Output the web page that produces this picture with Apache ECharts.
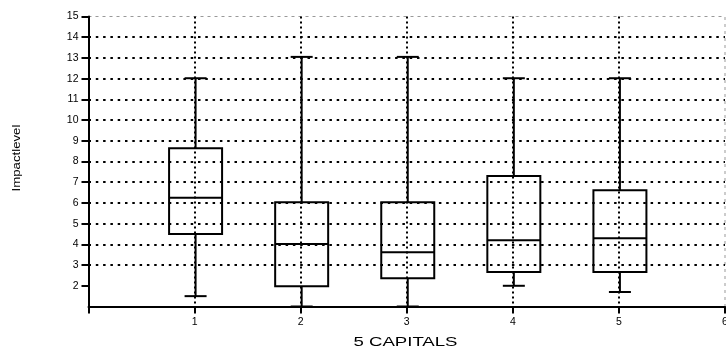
<!DOCTYPE html>
<html><head><meta charset="utf-8">
<script src="https://cdn.jsdelivr.net/npm/echarts@6/dist/echarts.min.js"></script>
<style>html,body{margin:0;padding:0;background:#fff}#c{width:726px;height:354px}</style>
</head><body><div id="c"></div>
<script>
// ---- data ----
const capitals = [1, 2, 3, 4, 5];
const whiskerLow = [1.5, 1.0, 1.0, 2.0, 1.7];
const quartile1 = [4.5, 1.98, 2.36, 2.67, 2.67];
const medians = [6.25, 4.02, 3.62, 4.2, 4.29];
const quartile3 = [8.64, 6.03, 6.03, 7.3, 6.61];
const whiskerHigh = [12.02, 13.05, 13.05, 12.02, 12.02];
const yTickValues = [2, 3, 4, 5, 6, 7, 8, 9, 10, 11, 12, 13, 14, 15];
const xTickValues = [1, 2, 3, 4, 5, 6];
const xAxisTitle = '5 CAPITALS';
const yAxisTitle = 'Impactlevel';

const FONT = '"Liberation Sans", Arial, sans-serif';
const boxData = capitals.map((c, i) => [c, whiskerLow[i], quartile1[i], medians[i], quartile3[i], whiskerHigh[i]]);

const chart = echarts.init(document.getElementById('c'), null, {renderer: 'canvas'});
chart.setOption({
  animation: false,
  backgroundColor: '#fff',
  grid: {
    left: 88.5, right: 1, top: 16.5, bottom: 47.5,
    outerBoundsMode: 'none', containLabel: false,
    show: true, borderColor: '#999', borderWidth: 1, borderType: [3, 4], backgroundColor: 'transparent'
  },
  xAxis: {
    type: 'value', min: 0, max: 6, interval: 1,
    axisLine: {show: true, onZero: false, lineStyle: {color: '#000', width: 2}},
    axisTick: {show: true, inside: false, length: 7, lineStyle: {color: '#000', width: 2}},
    axisLabel: {customValues: xTickValues, margin: 10, color: '#000', fontSize: 10.5, fontFamily: FONT},
    splitLine: {show: true, showMinLine: false, showMaxLine: false, lineStyle: {color: '#000', width: 2, type: [2, 3]}}
  },
  yAxis: {
    type: 'value', min: 1, max: 15, interval: 1,
    axisLine: {show: true, onZero: false, lineStyle: {color: '#000', width: 2}},
    axisTick: {show: true, inside: false, length: 7, lineStyle: {color: '#000', width: 2}, customValues: yTickValues},
    axisLabel: {customValues: yTickValues, margin: 10, color: '#000', fontSize: 10.5, fontFamily: FONT},
    splitLine: {show: true, showMinLine: false, showMaxLine: false, lineStyle: {color: '#000', width: 1.8, type: [2.5, 4.8]}}
  },
  graphic: [
    {type: 'text', x: 405.5, y: 343, scaleX: 1.55, z: 10,
     style: {text: xAxisTitle, font: '12px ' + FONT, fill: '#000', align: 'center', verticalAlign: 'middle', textAlign: 'center', textVerticalAlign: 'middle'}},
    {type: 'text', x: 17, y: 158, rotation: Math.PI / 2, scaleX: 1.2, z: 10,
     style: {text: yAxisTitle, font: '11px ' + FONT, fill: '#000', align: 'center', verticalAlign: 'middle', textAlign: 'center', textVerticalAlign: 'middle'}}
  ],
  series: [{
    type: 'custom',
    data: boxData,
    encode: {x: 0, y: [1, 2, 3, 4, 5]},
    clip: false,
    renderItem: function (params, api) {
      const x = api.value(0);
      const pLow = api.coord([x, api.value(1)]);
      const pQ1 = api.coord([x, api.value(2)]);
      const pMed = api.coord([x, api.value(3)]);
      const pQ3 = api.coord([x, api.value(4)]);
      const pHigh = api.coord([x, api.value(5)]);
      const cx = pLow[0] + 1;
      const bw = 53, cw = 22;
      const ls = {stroke: '#000', lineWidth: 2, fill: null};
      return {type: 'group', children: [
        {type: 'line', shape: {x1: cx, y1: pHigh[1], x2: cx, y2: pQ3[1]}, style: ls},
        {type: 'line', shape: {x1: cx, y1: pQ1[1], x2: cx, y2: pLow[1]}, style: ls},
        {type: 'line', shape: {x1: cx - cw / 2, y1: pHigh[1], x2: cx + cw / 2, y2: pHigh[1]}, style: ls},
        {type: 'line', shape: {x1: cx - cw / 2, y1: pLow[1], x2: cx + cw / 2, y2: pLow[1]}, style: ls},
        {type: 'rect', shape: {x: cx - bw / 2, y: pQ3[1], width: bw, height: pQ1[1] - pQ3[1]}, style: {stroke: '#000', lineWidth: 2, fill: 'none'}},
        {type: 'line', shape: {x1: cx - bw / 2, y1: pMed[1], x2: cx + bw / 2, y2: pMed[1]}, style: ls}
      ]};
    }
  }]
});
</script>
</body></html>
